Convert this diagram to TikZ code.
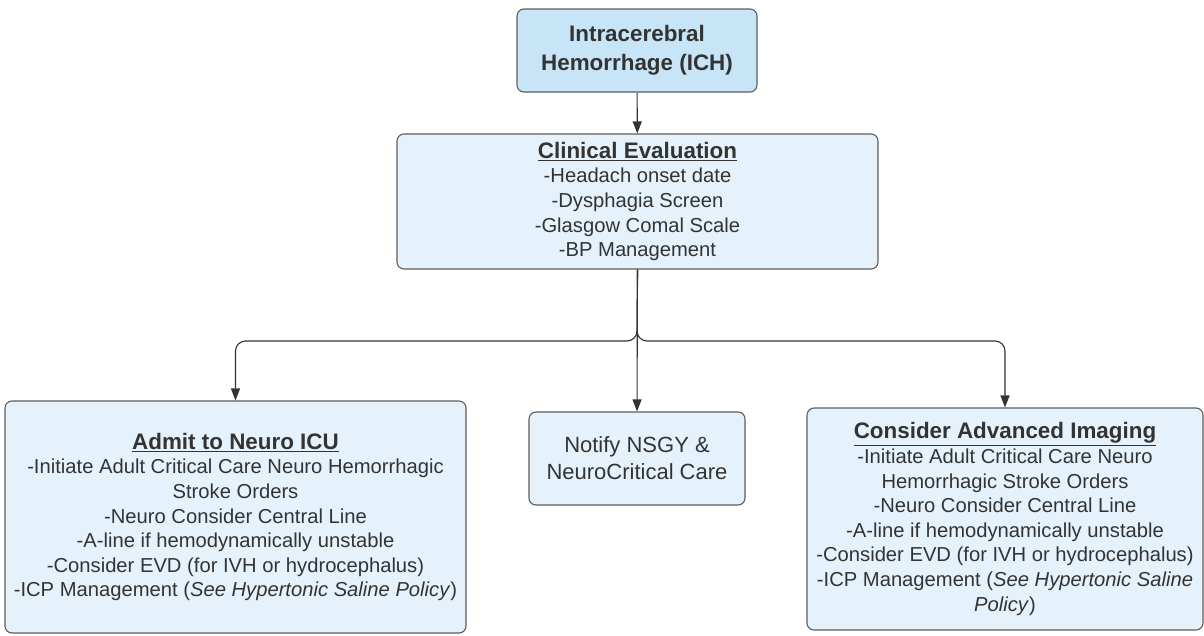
\documentclass[tikz,border=0pt]{standalone}
\usepackage{fontspec}
\setmainfont{Liberation Sans}
\usetikzlibrary{arrows.meta}
\definecolor{txt}{HTML}{333333}
\definecolor{edge}{HTML}{5E5E5E}
\definecolor{topfill}{HTML}{C7E5F7}
\definecolor{boxfill}{HTML}{E6F2FB}
\tikzset{
  box/.style={draw=edge, line width=1.1pt, rounded corners=7pt, fill=boxfill,
    text=txt, align=center, inner sep=0pt,
    font=\fontsize{20.2}{24.6}\selectfont},
  topbox/.style={box, fill=topfill, font=\fontsize{22.4}{29.5}\selectfont\bfseries},
  arr/.style={draw=txt, line width=1.1pt, -{Triangle[length=12pt,width=9pt]}}
}
\newcommand{\hdr}[1]{{\fontsize{22.4}{24.6}\selectfont\bfseries\underline{#1}}}
\begin{document}
\begin{tikzpicture}[x=1pt,y=-1pt]
\useasboundingbox (0,0) rectangle (1204,635);
\node[topbox, minimum width=240pt, minimum height=83pt] (top) at (637,50.5)
  {Intracerebral\\Hemorrhage (ICH)};
\node[box, minimum width=481pt, minimum height=135pt] (clin) at (637.5,201.5)
  {\hdr{Clinical Evaluation}\\-Headach onset date\\-Dysphagia Screen\\-Glasgow Comal Scale\\-BP Management};
\node[box, minimum width=461pt, minimum height=232pt] (left) at (235.5,517)
  {\hdr{Admit to Neuro ICU}\\-Initiate Adult Critical Care Neuro Hemorrhagic\\Stroke Orders\\-Neuro Consider Central Line\\-A-line if hemodynamically unstable\\-Consider EVD (for IVH or hydrocephalus)\\-ICP Management (\textit{See Hypertonic Saline Policy})};
\node[box, minimum width=216pt, minimum height=93pt, font=\fontsize{22}{27}\selectfont] (mid) at (637,458.5)
  {Notify NSGY \&\\NeuroCritical Care};
\node[box, minimum width=396pt, minimum height=222pt] (right) at (1005,519)
  {\hdr{Consider Advanced Imaging}\\-Initiate Adult Critical Care Neuro\\Hemorrhagic Stroke Orders\\-Neuro Consider Central Line\\-A-line if hemodynamically unstable\\-Consider EVD (for IVH or hydrocephalus)\\-ICP Management (\textit{See Hypertonic Saline}\\\textit{Policy})};
\coordinate (j) at (637,341);
\draw[arr] (top) -- (clin);
\draw[arr, rounded corners=10pt] (clin.south) -- (j) -- (left.north |- j) -- (left.north);
\draw[arr, rounded corners=10pt] (clin.south) -- (j) -- (right.north |- j) -- (right.north);
\draw[arr] (clin.south) -- (mid.north);
\end{tikzpicture}
\end{document}
